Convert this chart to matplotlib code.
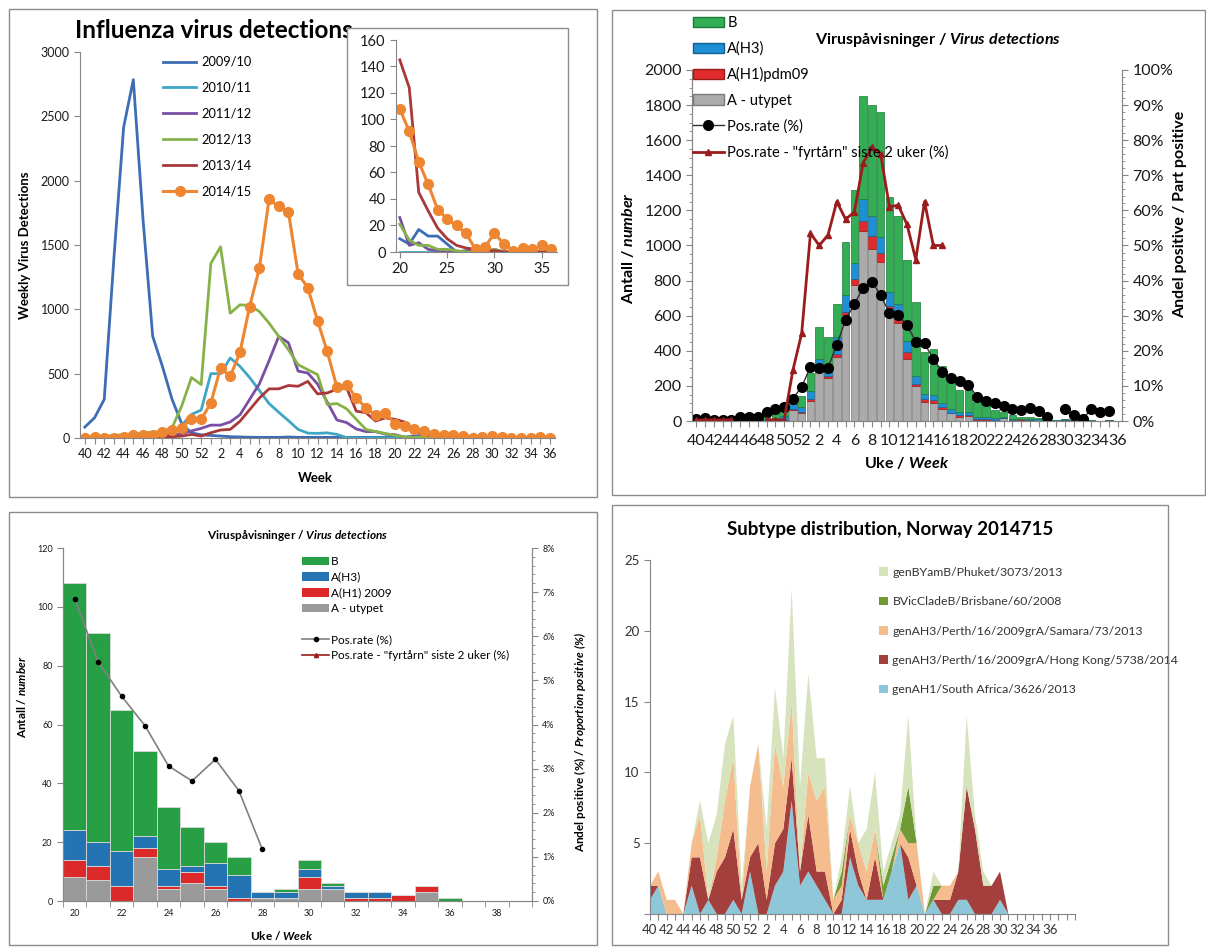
import numpy as np
import matplotlib
matplotlib.use("Agg")
import matplotlib.pyplot as plt
from matplotlib.patches import Rectangle, Patch
from matplotlib.lines import Line2D
from matplotlib.ticker import AutoMinorLocator

plt.rcParams['font.family'] = ['Lato', 'DejaVu Sans']
plt.rcParams['mathtext.fontset'] = 'custom'
plt.rcParams['mathtext.rm'] = 'Lato'
plt.rcParams['mathtext.it'] = 'Lato:italic'
plt.rcParams['mathtext.bf'] = 'Lato:bold'
plt.rcParams['mathtext.bfit'] = 'Lato:bold:italic'

# ---------------- data ----------------
# season weeks 40..52, 1..36
weeks = list(range(40, 53)) + list(range(1, 37))
week_labels = [str(w) for w in weeks]

# panel 1: weekly virus detections per season
s0910 = [85, 157, 300, 1400, 2415, 2785, 1700, 790, 557, 300, 110, 40, 25,
         20, 15, 10, 8, 6, 5, 5, 5, 8, 5, 5, 5, 5, 5, 5, 5, 5, 5, 5,
         10, 6, 17, 12, 12, 6, 0, 1, 2, 2, 1, 0, 0, 0, 0, 0, 0]
s1011 = [0, 0, 0, 0, 0, 5, 5, 10, 15, 40, 100, 183, 217,
         500, 500, 622, 557, 470, 370, 268, 200, 135, 67, 38, 36, 40, 28, 3,
         0, 0, 0, 0, 0, 0, 0, 0, 0, 0, 0, 0, 0, 0, 0, 0, 0, 0, 0, 0, 0]
s1112 = [0, 0, 0, 0, 0, 5, 5, 10, 15, 25, 35, 55, 75,
         100, 100, 125, 180, 300, 420, 600, 790, 740, 520, 505, 420, 280, 140,
         120, 70, 50, 50, 30, 26, 5, 7, 2, 1, 0, 0, 0, 0, 0, 2, 0, 0, 0, 0, 0, 0]
s1213 = [5, 10, 15, 20, 25, 30, 40, 45, 50, 80, 250, 470, 415,
         1357, 1486, 970, 1035, 1030, 983, 893, 790, 686, 570, 531, 493, 260,
         268, 227, 145, 67, 50, 35, 21, 9, 5, 5, 2, 2, 1, 0, 0, 0, 2, 0, 0, 0, 0, 0, 0]
s1314 = [0, 0, 0, 0, 0, 0, 0, 5, 10, 10, 15, 28, 15,
         41, 62, 67, 130, 220, 310, 382, 382, 408, 402, 440, 343, 350, 380,
         390, 209, 196, 132, 157, 145, 124, 45, 31, 18, 10, 5, 3, 2, 1, 1, 0, 0, 0, 0, 0, 0]
s1415 = [0, 5, 0, 0, 5, 25, 25, 25, 45, 60, 80, 150, 145,
         273, 545, 480, 665, 1022, 1318, 1855, 1800, 1757, 1275, 1169, 913, 673,
         395, 415, 312, 235, 175, 196, 108, 91, 68, 51, 32, 25, 20, 14, 2, 4, 14, 6, 1, 3, 2, 5, 2]
season_names = ['2009/10', '2010/11', '2011/12', '2012/13', '2013/14', '2014/15']

# panel 2: detections by type, 2014/15
utypet = [0, 0, 0, 0, 0, 0, 0, 0, 0, 0, 0, 63, 48,
          116, 281, 243, 367, 604, 775, 1080, 980, 908, 642, 560, 352, 198, 108,
          102, 68, 44, 25, 29, 8, 7, 0, 15, 4, 6, 4, 0, 1, 1, 4, 4, 0, 0, 0, 3, 0]
h1pdm = [0, 0, 0, 0, 0, 0, 0, 0, 2, 3, 3, 5, 5,
         8, 13, 14, 15, 18, 33, 62, 73, 47, 13, 19, 44, 13, 20,
         15, 13, 4, 10, 6, 6, 5, 5, 3, 1, 4, 1, 1, 0, 0, 4, 0, 1, 1, 2, 2, 0]
h3 = [0, 0, 0, 0, 0, 2, 3, 3, 8, 15, 25, 30, 27,
      47, 57, 43, 99, 96, 95, 122, 117, 95, 78, 86, 57, 48, 23,
      30, 20, 19, 14, 18, 10, 8, 12, 4, 6, 2, 8, 8, 2, 2, 3, 1, 2, 2, 0, 0, 0]
b = [2, 3, 0, 0, 3, 10, 12, 12, 25, 35, 45, 50, 65,
     100, 186, 177, 186, 300, 414, 590, 631, 710, 546, 503, 462, 418, 244,
     263, 210, 157, 128, 127, 84, 71, 48, 29, 21, 13, 7, 6, 0, 1, 3, 1, 0, 0, 0, 0, 1]
nan = np.nan
pos_rate = [0.5, 0.8, 0.3, 0.3, 0.3, 1.0, 1.2, 1.2, 2.6, 3.3, 4.0, 6.4, 9.7,
            15.5, 15.2, 15.2, 21.7, 28.8, 33.3, 38.0, 39.7, 35.9, 30.7, 30.2, 27.3,
            22.6, 22.1, 17.6, 14.1, 12.3, 11.4, 10.3, 6.9, 5.7, 5.0, 4.3, 3.3, 3.1,
            3.6, 2.9, 1.2, nan, 3.3, 1.7, 0.6, 3.3, 2.6, 2.9, nan]
fyrtarn = [0.3, 0.3, 0.3, 0.3, 0.3, nan, nan, nan, 0.3, 0.3, 0.3, 14.5, 25.0,
           53.5, 50.0, 53.0, 62.5, 57.5, 59.5, 73.5, 78.0, 76.0, 61.0, 61.5, 56.0,
           46.0, 62.5, 50.0, 50.0] + [nan] * 20

# panel 3: weeks 20..39
p3_weeks = list(range(20, 40))
p3_utypet = [8, 7, 0, 15, 4, 6, 4, 0, 1, 1, 4, 4, 0, 0, 0, 3, 0, 0, 0, 0]
p3_h1 = [6, 5, 5, 3, 1, 4, 1, 1, 0, 0, 4, 0, 1, 1, 2, 2, 0, 0, 0, 0]
p3_h3 = [10, 8, 12, 4, 6, 2, 8, 8, 2, 2, 3, 1, 2, 2, 0, 0, 0, 0, 0, 0]
p3_b = [84, 71, 48, 29, 21, 13, 7, 6, 0, 1, 3, 1, 0, 0, 0, 0, 1, 0, 0, 0]
p3_pos_weeks = list(range(20, 29))
p3_pos = [6.85, 5.42, 4.64, 3.97, 3.06, 2.72, 3.21, 2.50, 1.17]

# panel 4: subtype distribution, weeks 40..52, 1..31 (axis to week 39)
p4_weeks = list(range(40, 53)) + list(range(1, 40))
ah1_sa = [1, 2, 0, 0, 0, 2, 0, 1, 0, 0, 1, 0, 3,
          0, 0, 2, 3, 8, 2, 3, 2, 1, 0, 0, 4, 2, 1, 1, 1, 3, 5, 1, 2, 0, 1, 0, 0, 1, 1, 0, 0, 0, 1, 0]
ah3_hk = [1, 0, 0, 0, 0, 2, 4, 0, 3, 4, 5, 1, 1,
          5, 1, 3, 3, 3, 1, 4, 1, 2, 0, 1, 2, 1, 0, 3, 0, 0, 0, 3, 0, 0, 0, 1, 1, 2, 8, 6, 2, 2, 2, 0]
ah3_samara = [0, 1, 1, 1, 0, 1, 3, 0, 1, 4, 5, 0, 5,
              7, 2, 7, 3, 4, 0, 3, 5, 6, 1, 1, 1, 2, 2, 2, 0, 0, 1, 1, 3, 0, 0, 1, 1, 0, 0, 0, 0, 0, 0, 0]
bvic = [0, 0, 0, 0, 0, 0, 0, 0, 0, 0, 0, 0, 0,
        0, 0, 0, 0, 0, 0, 0, 0, 0, 0, 1, 0, 0, 0, 0, 1, 1, 0, 4, 0, 0, 1, 0, 0, 0, 0, 0, 0, 0, 0, 0]
byam = [0, 0, 0, 0, 0, 0, 1, 4, 3, 4, 3, 1, 0,
        0, 3, 4, 2, 8, 6, 7, 3, 2, 0, 1, 2, 0, 3, 4, 1, 1, 1, 5, 0, 0, 1, 0, 0, 0, 5, 1, 1, 0, 0, 0]
p4_names = ['genAH1/South Africa/3626/2013', 'genAH3/Perth/16/2009grA/Hong Kong/5738/2014',
            'genAH3/Perth/16/2009grA/Samara/73/2013', 'BVicCladeB/Brisbane/60/2008',
            'genBYamB/Phuket/3073/2013']

# ---------------- layout helpers ----------------
W, H = 1206, 947
fig = plt.figure(figsize=(W / 100, H / 100), dpi=100)
GRAY = '#868686'


def rect(l, t, r, bt):
    return [l / W, 1 - bt / H, (r - l) / W, (bt - t) / H]


def frame(l, t, r, bt, fill=False, z=1):
    fig.add_artist(Rectangle((l / W, 1 - bt / H), (r - l) / W, (bt - t) / H,
                             transform=fig.transFigure, fill=fill, fc='white',
                             ec='#8c8c8c', lw=1, zorder=z))


def ftext(x, y, s, **kw):
    kw.setdefault('ha', 'center')
    kw.setdefault('va', 'center')
    return fig.text(x / W, 1 - y / H, s, **kw)


def style_axes(ax, sides=('left', 'bottom')):
    for k, sp in ax.spines.items():
        sp.set_visible(k in sides)
        sp.set_color(GRAY)
    ax.tick_params(colors=GRAY, labelcolor='#1a1a1a')


def even_labels(labels):
    return [lab if i % 2 == 0 else '' for i, lab in enumerate(labels)]


frame(9, 9, 597, 497)
frame(612, 10, 1205, 495)
frame(9, 512, 597, 945)
frame(612, 505, 1168, 945)

# ---------------- panel 1 ----------------
season_colors = ['#3D6DB4', '#3FA7C4', '#7A4FA3', '#86B24A', '#A8383A', '#EE8631']
series = [s0910, s1011, s1112, s1213, s1314, s1415]
x = np.arange(len(weeks))

ax1 = fig.add_axes(rect(80, 52, 555, 438))
for s, c, n in zip(series, season_colors, season_names):
    if n == '2014/15':
        ax1.plot(x, s, color=c, lw=2.2, marker='o', ms=7, label=n)
    else:
        ax1.plot(x, s, color=c, lw=2, label=n)
ax1.set_xlim(-0.5, 48.5)
ax1.set_ylim(0, 3000)
ax1.set_yticks(range(0, 3001, 500))
ax1.set_xticks(x)
ax1.set_xticklabels(even_labels(week_labels))
style_axes(ax1)
ax1.tick_params(axis='both', labelsize=9, length=4)
ax1.legend(loc='upper left', bbox_to_anchor=(163 / W, 1 - 56 / H), bbox_transform=fig.transFigure,
           frameon=False, fontsize=9.2, handlelength=2.6, labelspacing=1.08, handletextpad=0.4,
           borderpad=0, borderaxespad=0)
ftext(75, 30, 'Influenza virus detections', ha='left', fontsize=17.5, fontweight='bold', zorder=0.5)
ftext(315, 478, 'Week', fontsize=9.5, fontweight='bold')
ftext(25, 245, 'Weekly Virus Detections', rotation=90, fontsize=9.5, fontweight='bold')

# inset
frame(347, 28, 568, 285, fill=True, z=1)
ax1i = fig.add_axes(rect(396, 40, 557, 252))
ax1i.set_zorder(2)
ax1i.patch.set_alpha(0)
inset_weeks = np.arange(20, 37)
for s, c, n in zip(series, season_colors, season_names):
    if n == '2014/15':
        ax1i.plot(inset_weeks, s[32:], color=c, lw=2.2, marker='o', ms=7)
    else:
        ax1i.plot(inset_weeks, s[32:], color=c, lw=2)
ax1i.set_xlim(19.6, 36.6)
ax1i.set_ylim(0, 160)
ax1i.set_yticks(range(0, 161, 20))
ax1i.set_xticks([20, 25, 30, 35])
style_axes(ax1i)
ax1i.tick_params(axis='both', labelsize=10.5, length=4)

# ---------------- panel 2 ----------------
c_b, c_h3, c_h1, c_ut = '#33AE55', '#1E8FD2', '#DF2B2D', '#ABABAB'
ax2 = fig.add_axes(rect(692, 70, 1122, 421))
bottom = np.zeros(len(weeks))
for vals, c, ec in [(utypet, c_ut, '#7a7a7a'), (h1pdm, c_h1, '#9c1b1b'),
                    (h3, c_h3, '#145f91'), (b, c_b, '#1d7a38')]:
    ax2.bar(x, vals, bottom=bottom, width=0.86, color=c, edgecolor=ec, lw=0.5)
    bottom += np.array(vals)
ax2.set_xlim(-0.5, 48.5)
ax2.set_ylim(0, 2000)
ax2.set_yticks(range(0, 2001, 200))
ax2.yaxis.set_minor_locator(AutoMinorLocator(4))
ax2.set_xticks(x)
ax2.set_xticklabels(even_labels(week_labels))
style_axes(ax2, ('left', 'bottom', 'right'))
ax2.tick_params(axis='both', labelsize=11.5, length=4)
ax2.tick_params(axis='x', pad=5)
ax2.tick_params(axis='y', which='minor', length=2.5, colors=GRAY)

ax2r = ax2.twinx()
ax2r.plot(x, pos_rate, color='#303030', lw=1, marker='o', ms=7, mfc='black', mec='black')
ax2r.plot(x, fyrtarn, color='#9B1C1C', lw=2, marker='^', ms=4.5)
ax2r.set_ylim(0, 100)
ax2r.set_yticks(range(0, 101, 10))
ax2r.set_yticklabels([f'{v}%' for v in range(0, 101, 10)])
ax2r.yaxis.set_minor_locator(AutoMinorLocator(5))
style_axes(ax2r, ('left', 'bottom', 'right'))
ax2r.tick_params(axis='y', labelsize=11.5, length=4)
ax2r.tick_params(axis='y', which='minor', length=2.5, colors=GRAY)

h2 = [Patch(fc=c_b, ec='#1d7a38'), Patch(fc=c_h3, ec='#145f91'),
      Patch(fc=c_h1, ec='#9c1b1b'), Patch(fc=c_ut, ec='#7a7a7a'),
      Line2D([], [], color='#303030', lw=1, marker='o', ms=7, mfc='black', mec='black'),
      Line2D([], [], color='#9B1C1C', lw=2, marker='^', ms=4.5)]
l2 = ['B', 'A(H3)', 'A(H1)pdm09', 'A - utypet', 'Pos.rate (%)',
      'Pos.rate - "fyrtårn" siste 2 uker (%)']
ax2r.legend(h2, l2, loc='upper left', bbox_to_anchor=(693 / W, 1 - 16 / H),
            bbox_transform=fig.transFigure, frameon=False, fontsize=10.5,
            handlelength=2.1, handleheight=0.7, labelspacing=0.78, handletextpad=0.25,
            borderpad=0, borderaxespad=0)
ftext(938, 40, r'Viruspåvisninger / $\mathbfit{Virus\ detections}$', fontsize=11.5, fontweight='bold')
ftext(628, 248, r'Antall / $\mathbfit{number}$', rotation=90, fontsize=11.5, fontweight='bold')
ftext(1180, 214, 'Andel positive / Part positive', rotation=90, fontsize=11.5, fontweight='bold')
ftext(907, 463, r'Uke / $\mathbfit{Week}$', fontsize=11.5, fontweight='bold')

# ---------------- panel 3 ----------------
d_b, d_h3, d_h1, d_ut = '#27A045', '#2474B4', '#DC2A2B', '#9A9A9A'
ax3 = fig.add_axes(rect(63, 548, 532, 901))
bottom = np.zeros(len(p3_weeks))
for vals, c in [(p3_utypet, d_ut), (p3_h1, d_h1), (p3_h3, d_h3), (p3_b, d_b)]:
    ax3.bar(p3_weeks, vals, bottom=bottom, width=1.0, color=c, edgecolor='#d9d9d9', lw=0.6)
    bottom += np.array(vals)
ax3.set_xlim(19.5, 39.5)
ax3.set_ylim(0, 120)
ax3.set_yticks(range(0, 121, 20))
ax3.set_xticks(range(20, 39, 2))
ax3.set_xticks(np.arange(19.5, 40, 1), minor=True)
style_axes(ax3, ('left', 'bottom', 'right'))
ax3.tick_params(axis='both', labelsize=6.5, length=4)
ax3.tick_params(axis='x', which='major', length=0, pad=6)
ax3.tick_params(axis='x', which='minor', length=4, colors=GRAY)

ax3r = ax3.twinx()
ax3r.plot(p3_pos_weeks, p3_pos, color='#808080', lw=1.2, marker='o', ms=3, mfc='black', mec='black')
ax3r.set_ylim(0, 8)
ax3r.set_yticks(range(0, 9))
ax3r.set_yticklabels([f'{v}%' for v in range(0, 9)])
ax3r.yaxis.set_minor_locator(AutoMinorLocator(5))
style_axes(ax3r, ('left', 'bottom', 'right'))
ax3r.tick_params(axis='y', labelsize=6.5, length=4)
ax3r.tick_params(axis='y', which='minor', length=2, colors=GRAY)

h3h = [Patch(fc=d_b), Patch(fc=d_h3), Patch(fc=d_h1), Patch(fc=d_ut),
       Line2D([], [], color='none'),
       Line2D([], [], color='#808080', lw=1.2, marker='o', ms=3, mfc='black', mec='black'),
       Line2D([], [], color='#9B1C1C', lw=1.2, marker='^', ms=3)]
l3 = ['B', 'A(H3)', 'A(H1) 2009', 'A - utypet', ' ', 'Pos.rate (%)',
      'Pos.rate - "fyrtårn" siste 2 uker (%)']
ax3r.legend(h3h, l3, loc='upper left', bbox_to_anchor=(302 / W, 1 - 556 / H),
            bbox_transform=fig.transFigure, frameon=False, fontsize=8.5,
            handlelength=2.3, handleheight=0.75, labelspacing=0.4, handletextpad=0.15,
            borderpad=0, borderaxespad=0)
ftext(298, 535, r'Viruspåvisninger / $\mathbfit{Virus\ detections}$', fontsize=8.5, fontweight='bold')
ftext(22, 697, r'Antall / $\mathbfit{number}$', rotation=90, fontsize=8.5, fontweight='bold')
ftext(580, 742, r'Andel positive (%) / $\mathbfit{Proportion\ positive\ (\%)}$', rotation=90,
      fontsize=8.5, fontweight='bold')
ftext(282, 935, r'Uke / $\mathbfit{Week}$', fontsize=8.5, fontweight='bold')

# ---------------- panel 4 ----------------
p4_colors = ['#8EC8D8', '#A3403E', '#F5BC8E', '#6F9A36', '#D6E3BD']
ax4 = fig.add_axes(rect(650, 560, 1075, 914))
x4 = np.arange(len(ah1_sa))
ax4.stackplot(x4, ah1_sa, ah3_hk, ah3_samara, bvic, byam, colors=p4_colors, lw=0)
ax4.set_xlim(0, len(p4_weeks) - 1)
ax4.set_ylim(0, 25)
ax4.set_yticks(range(0, 26, 5))
ax4.set_yticklabels([''] + [str(v) for v in range(5, 26, 5)])
ax4.set_xticks(np.arange(len(p4_weeks)))
ax4.set_xticklabels([lab if (i % 2 == 0 and i <= 48) else ''
                     for i, lab in enumerate(str(w) for w in p4_weeks)])
style_axes(ax4)
ax4.tick_params(axis='both', labelsize=9.5, length=4, labelcolor='#333333')
h4 = [Patch(fc=c) for c in p4_colors][::-1]
ax4.legend(h4, p4_names[::-1], loc='upper left', bbox_to_anchor=(879 / W, 1 - 567 / H),
           bbox_transform=fig.transFigure, frameon=False, fontsize=8.8,
           handlelength=0.7, handleheight=0.7, labelspacing=1.5, handletextpad=0.4,
           borderpad=0, borderaxespad=0, labelcolor='#333333')
ftext(890, 530, 'Subtype distribution, Norway 2014715', fontsize=13.5, fontweight='bold')

fig.savefig('out.png', dpi=100)
